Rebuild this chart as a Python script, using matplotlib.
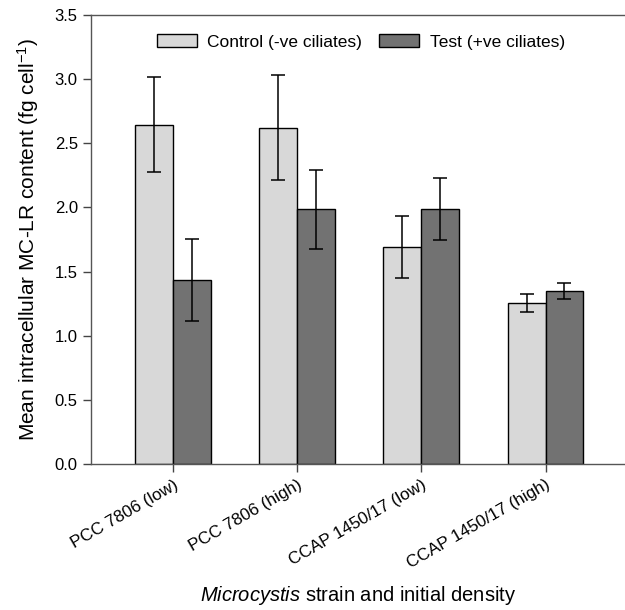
import matplotlib
matplotlib.use("Agg")
import matplotlib.pyplot as plt
import numpy as np

# data
strains = ["PCC 7806 (low)", "PCC 7806 (high)", "CCAP 1450/17 (low)", "CCAP 1450/17 (high)"]
control = [2.645, 2.62, 1.69, 1.255]
control_err = [0.37, 0.41, 0.24, 0.067]
test = [1.435, 1.985, 1.99, 1.35]
test_err = [0.32, 0.31, 0.24, 0.063]

plt.rcParams["font.family"] = ["Liberation Sans", "DejaVu Sans"]
plt.rcParams["mathtext.fontset"] = "custom"
plt.rcParams["mathtext.rm"] = "Liberation Sans"
plt.rcParams["mathtext.it"] = "Liberation Sans:italic"

fig = plt.figure(figsize=(6.25, 6.1), dpi=100)
ax = fig.add_axes([91 / 625, 146 / 610, 1 - 91 / 625, 449 / 610])

x = np.arange(len(strains))
w = 0.305
ekw = dict(elinewidth=1.1, capthick=1.1, ecolor="black")
ax.bar(x - w / 2, control, w, yerr=control_err, capsize=5, color="#d8d8d8",
       edgecolor="black", linewidth=1.0, error_kw=ekw, label="Control (-ve ciliates)")
ax.bar(x + w / 2, test, w, yerr=test_err, capsize=5, color="#727272",
       edgecolor="black", linewidth=1.0, error_kw=ekw, label="Test (+ve ciliates)")

ax.set_ylim(0, 3.5)
ax.set_xlim(-0.66, 3.64)
ax.set_yticks(np.arange(0, 3.51, 0.5))
ax.set_yticklabels([f"{v:.1f}" for v in np.arange(0, 3.51, 0.5)], fontsize=12)
ax.set_xticks(x)
ax.set_xticklabels(strains, rotation=30, ha="right", rotation_mode="anchor", fontsize=12.3)
ax.tick_params(axis="both", direction="out", length=6, width=1, color="#444444")

for s in ["left", "top", "bottom"]:
    ax.spines[s].set_color("#555555")
    ax.spines[s].set_linewidth(1.0)
ax.spines["right"].set_visible(False)

ax.set_ylabel("Mean intracellular MC-LR content (fg cell$^{-1}$)", fontsize=15, labelpad=10)
ax.set_xlabel(r"$\it{Microcystis}$ strain and initial density", fontsize=14.5, labelpad=9)

ax.legend(loc="center", bbox_to_anchor=(0.505, 0.94), ncol=2, frameon=False, fontsize=12.5,
          handlelength=2.3, handleheight=0.75, columnspacing=1.0, handletextpad=0.6)

fig.savefig("out.png", dpi=100)
